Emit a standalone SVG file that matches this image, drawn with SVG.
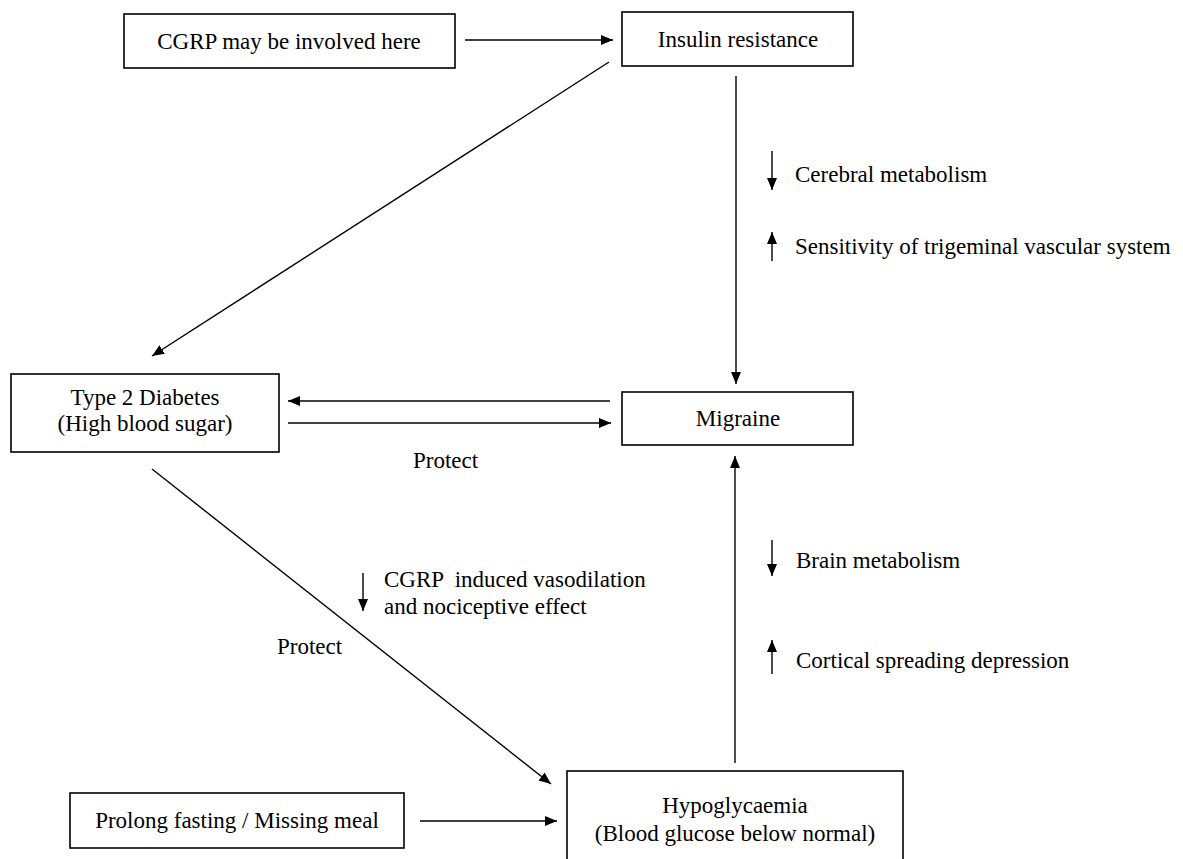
<svg xmlns="http://www.w3.org/2000/svg" width="1183" height="859" viewBox="0 0 1183 859">
<defs>
<marker id="ah" viewBox="0 0 12 10" refX="12" refY="5" markerWidth="12" markerHeight="10" markerUnits="userSpaceOnUse" orient="auto">
<path d="M0,0 L12,5 L0,10 z" fill="#000"/>
</marker>
</defs>
<style>
.box{fill:#fff;stroke:#000;stroke-width:1.6}
.t{font-family:"Liberation Serif","Times New Roman",serif;font-size:23px;fill:#000}
.c{text-anchor:middle}
.ln{stroke:#000;stroke-width:1.4;fill:none;marker-end:url(#ah)}
</style>
<rect width="1183" height="859" fill="#fff"/>
<g id="connectors">
<line class="ln" x1="465" y1="40" x2="613" y2="40"/>
<line class="ln" x1="609" y1="62" x2="152" y2="356"/>
<line class="ln" x1="736" y1="76" x2="736" y2="384"/>
<line class="ln" x1="610" y1="401" x2="288" y2="401"/>
<line class="ln" x1="288" y1="423" x2="611" y2="423"/>
<line class="ln" x1="152" y1="469" x2="551" y2="784"/>
<line class="ln" x1="735" y1="763" x2="735" y2="456"/>
<line class="ln" x1="420" y1="821" x2="557" y2="821"/>
<text class="t" x="413" y="468">Protect</text>
<text class="t" x="277" y="654">Protect</text>
</g>
<g id="annotations">
<line class="ln" x1="772" y1="151" x2="772" y2="190"/>
<text class="t" x="795" y="182">Cerebral metabolism</text>
<line class="ln" x1="772" y1="261" x2="772" y2="232"/>
<text class="t" x="795" y="254">Sensitivity of trigeminal vascular system</text>
<line class="ln" x1="772" y1="540" x2="772" y2="576"/>
<text class="t" x="796" y="568">Brain metabolism</text>
<line class="ln" x1="772" y1="674" x2="772" y2="640"/>
<text class="t" x="796" y="668">Cortical spreading depression</text>
<line class="ln" x1="363" y1="573" x2="363" y2="611"/>
<text class="t" x="384" y="587" xml:space="preserve">CGRP  induced vasodilation</text>
<text class="t" x="384" y="614">and nociceptive effect</text>
</g>
<g id="n-cgrp">
<rect class="box" x="124" y="14" width="331" height="54"/>
<text class="t" x="289" y="49" text-anchor="middle">CGRP may be involved here</text>
</g>
<g id="n-insulin">
<rect class="box" x="622" y="12" width="231" height="54"/>
<text class="t c" x="738" y="47">Insulin resistance</text>
</g>
<g id="n-t2d">
<rect class="box" x="11" y="374" width="268" height="78"/>
<text class="t c" x="145" y="405">Type 2 Diabetes</text>
<text class="t c" x="145" y="431">(High blood sugar)</text>
</g>
<g id="n-migraine">
<rect class="box" x="622" y="392" width="231" height="53"/>
<text class="t c" x="738" y="426">Migraine</text>
</g>
<g id="n-hypo">
<rect class="box" x="567" y="771" width="336" height="100"/>
<text class="t c" x="735" y="813">Hypoglycaemia</text>
<text class="t c" x="735" y="841">(Blood glucose below normal)</text>
</g>
<g id="n-fasting">
<rect class="box" x="70" y="793" width="334" height="55"/>
<text class="t c" x="237" y="828">Prolong fasting / Missing meal</text>
</g>
</svg>
